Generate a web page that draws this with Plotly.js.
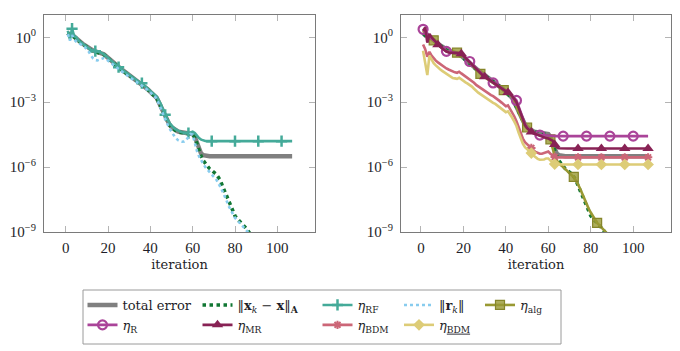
<!DOCTYPE html>
<html>
<head>
<meta charset="utf-8">
<script src="https://cdn.plot.ly/plotly-3.0.1.min.js"></script>
<style>html,body{margin:0;padding:0;background:#fff}#chart{width:680px;height:351px}</style>
</head>
<body>
<div id="chart"></div>
<script>
// ---------- data (stored as log10 exponents) ----------
const iterations = [1,2,3,4,5,6,7,8,9,10,11,12,13,14,15,16,17,18,19,20,21,22,23,24,25,26,27,28,29,30,31,32,33,34,35,36,37,38,39,40,41,42,43,44,45,46,47,48,49,50,51,52,53,54,55,56,57,58,59,60,61,62,63,64,65,66,67,68,69,70,71,72,73,74,75,76,77,78,79,80,81,82,83,84,85,86,87,88,89,90,91,92,93,94,95,96,97,98,99,100,101,102,103,104,105,106,107];

const totalErrorExp = [0.20,0.10,0.12,0.02,-0.06,-0.14,-0.22,-0.30,-0.37,-0.45,
 -0.52,-0.58,-0.62,-0.65,-0.67,-0.69,-0.72,-0.78,-0.86,-0.95,
 -1.05,-1.14,-1.22,-1.30,-1.38,-1.46,-1.53,-1.60,-1.67,-1.74,
 -1.81,-1.88,-1.95,-2.02,-2.08,-2.15,-2.23,-2.32,-2.42,-2.52,
 -2.60,-2.68,-2.80,-3.00,-3.22,-3.45,-3.68,-3.88,-4.03,-4.15,
 -4.24,-4.30,-4.35,-4.38,-4.40,-4.42,-4.43,-4.44,-4.45,-4.47,
 -4.60,-4.90,-5.20,-5.38,-5.45,-5.48,-5.50,-5.50,-5.50,-5.50,
 -5.50,-5.50,-5.50,-5.50,-5.50,-5.50,-5.50,-5.50,-5.50,-5.50,
 -5.50,-5.50,-5.50,-5.50,-5.50,-5.50,-5.50,-5.50,-5.50,-5.50,
 -5.50,-5.50,-5.50,-5.50,-5.50,-5.50,-5.50,-5.50,-5.50,-5.50,
 -5.50,-5.50,-5.50,-5.50,-5.50,-5.50,-5.50];

const aNormErrorExp = [0.18,0.08,0.10,0.00,-0.08,-0.16,-0.24,-0.32,-0.39,-0.47,
 -0.54,-0.60,-0.64,-0.67,-0.69,-0.71,-0.74,-0.80,-0.88,-0.97,
 -1.07,-1.16,-1.24,-1.32,-1.40,-1.48,-1.55,-1.62,-1.69,-1.76,
 -1.83,-1.90,-1.97,-2.04,-2.10,-2.17,-2.25,-2.34,-2.44,-2.54,
 -2.62,-2.70,-2.82,-3.02,-3.24,-3.47,-3.70,-3.90,-4.05,-4.17,
 -4.26,-4.32,-4.37,-4.40,-4.42,-4.44,-4.45,-4.46,-4.47,-4.50,
 -4.62,-4.95,-5.25,-5.50,-5.70,-5.85,-5.98,-6.08,-6.15,-6.22,
 -6.32,-6.45,-6.60,-6.85,-7.10,-7.30,-7.55,-7.85,-8.05,-8.25,
 -8.38,-8.48,-8.56,-8.65,-8.80,-8.92,-9.05,-9.20];

const etaRFExp = [0.30,-0.10,0.40,0.05,0.00,-0.15,-0.22,-0.30,-0.36,-0.45,
 -0.52,-0.57,-0.61,-0.64,-0.66,-0.68,-0.72,-0.78,-0.86,-0.95,
 -1.05,-1.14,-1.22,-1.30,-1.38,-1.46,-1.53,-1.60,-1.67,-1.74,
 -1.81,-1.88,-1.94,-2.00,-2.06,-2.12,-2.20,-2.30,-2.40,-2.50,
 -2.58,-2.65,-2.74,-2.90,-3.10,-3.35,-3.58,-3.78,-3.95,-4.08,
 -4.18,-4.26,-4.32,-4.36,-4.39,-4.41,-4.43,-4.43,-4.40,-4.36,
 -4.42,-4.55,-4.66,-4.73,-4.77,-4.79,-4.80,-4.80,-4.80,-4.80,
 -4.80,-4.80,-4.80,-4.80,-4.80,-4.80,-4.80,-4.80,-4.80,-4.80,
 -4.80,-4.80,-4.80,-4.80,-4.80,-4.80,-4.80,-4.80,-4.80,-4.80,
 -4.80,-4.80,-4.80,-4.80,-4.80,-4.80,-4.80,-4.80,-4.80,-4.80,
 -4.80,-4.80,-4.80,-4.80,-4.80,-4.80,-4.80];

const residualExp = [0.15,-0.15,0.10,-0.10,-0.20,-0.25,-0.30,-0.38,-0.45,-0.55,
 -0.68,-0.85,-0.98,-1.05,-1.07,-1.03,-0.98,-0.96,-1.00,-1.07,
 -1.15,-1.23,-1.31,-1.39,-1.47,-1.55,-1.62,-1.69,-1.76,-1.83,
 -1.90,-1.96,-2.02,-2.09,-2.15,-2.22,-2.30,-2.38,-2.46,-2.55,
 -2.63,-2.72,-2.85,-3.05,-3.30,-3.55,-3.80,-4.00,-4.20,-4.38,
 -4.52,-4.65,-4.75,-4.80,-4.83,-4.82,-4.75,-4.60,-4.47,-4.50,
 -4.90,-5.25,-5.50,-5.70,-5.85,-6.00,-6.12,-6.25,-6.35,-6.45,
 -6.55,-6.70,-6.90,-7.10,-7.30,-7.55,-7.80,-8.00,-8.20,-8.35,
 -8.45,-8.55,-8.65,-8.75,-8.88,-9.00,-9.12,-9.25];

const etaAlgExp = [0.30,0.15,0.05,-0.02,-0.09,-0.14,-0.22,-0.32,-0.41,-0.50,
 -0.58,-0.65,-0.68,-0.69,-0.70,-0.70,-0.71,-0.73,-0.77,-0.86,
 -0.96,-1.06,-1.15,-1.26,-1.38,-1.49,-1.60,-1.69,-1.77,-1.84,
 -1.91,-1.98,-2.06,-2.14,-2.20,-2.26,-2.32,-2.38,-2.44,-2.50,
 -2.56,-2.64,-2.76,-2.95,-3.20,-3.45,-3.70,-3.90,-4.05,-4.17,
 -4.28,-4.36,-4.42,-4.47,-4.50,-4.53,-4.56,-4.60,-4.64,-4.68,
 -4.72,-5.10,-5.50,-5.70,-5.82,-5.92,-6.00,-6.10,-6.20,-6.30,
 -6.38,-6.45,-6.60,-6.80,-7.00,-7.25,-7.50,-7.72,-7.92,-8.10,
 -8.28,-8.45,-8.58,-8.68,-8.78,-8.88,-8.98,-9.10];

const etaRExp = [0.37,0.25,0.12,0.02,-0.07,-0.14,-0.22,-0.32,-0.41,-0.50,
 -0.58,-0.65,-0.68,-0.69,-0.70,-0.70,-0.71,-0.73,-0.76,-0.84,
 -0.94,-1.04,-1.12,-1.22,-1.33,-1.44,-1.55,-1.64,-1.73,-1.81,
 -1.88,-1.95,-2.03,-2.11,-2.18,-2.24,-2.30,-2.37,-2.43,-2.49,
 -2.55,-2.62,-2.70,-2.80,-2.92,-3.20,-3.50,-3.78,-4.00,-4.17,
 -4.30,-4.38,-4.44,-4.48,-4.50,-4.52,-4.53,-4.54,-4.55,-4.55,
 -4.56,-4.57,-4.57,-4.57,-4.57,-4.57,-4.57,-4.57,-4.57,-4.57,
 -4.57,-4.57,-4.57,-4.57,-4.57,-4.57,-4.57,-4.57,-4.57,-4.57,
 -4.57,-4.57,-4.57,-4.57,-4.57,-4.57,-4.57,-4.57,-4.57,-4.57,
 -4.57,-4.57,-4.57,-4.57,-4.57,-4.57,-4.57,-4.57,-4.57,-4.57,
 -4.57,-4.57,-4.57,-4.57,-4.57,-4.57,-4.57];

const etaMRExp = [0.30,0.45,-0.25,0.15,0.00,-0.12,-0.24,-0.35,-0.43,-0.52,
 -0.60,-0.66,-0.70,-0.72,-0.72,-0.72,-0.72,-0.73,-0.76,-0.85,
 -0.96,-1.06,-1.15,-1.25,-1.36,-1.47,-1.58,-1.67,-1.75,-1.82,
 -1.89,-1.96,-2.04,-2.12,-2.19,-2.25,-2.31,-2.38,-2.44,-2.50,
 -2.55,-2.62,-2.72,-2.85,-3.00,-3.25,-3.55,-3.82,-4.05,-4.20,
 -4.30,-4.38,-4.44,-4.48,-4.52,-4.56,-4.60,-4.63,-4.66,-4.68,
 -4.72,-4.78,-4.95,-5.08,-5.13,-5.14,-5.14,-5.14,-5.14,-5.14,
 -5.14,-5.14,-5.14,-5.14,-5.14,-5.14,-5.14,-5.14,-5.14,-5.14,
 -5.14,-5.14,-5.14,-5.14,-5.14,-5.14,-5.14,-5.14,-5.14,-5.14,
 -5.14,-5.14,-5.14,-5.14,-5.14,-5.14,-5.14,-5.14,-5.14,-5.14,
 -5.14,-5.14,-5.14,-5.14,-5.14,-5.14,-5.14];

const etaBDMExp = [-0.33,-0.55,-0.90,-0.67,-0.85,-0.98,-1.08,-1.16,-1.24,-1.31,
 -1.38,-1.44,-1.49,-1.54,-1.59,-1.62,-1.64,-1.59,-1.67,-1.74,
 -1.80,-1.85,-1.92,-2.00,-2.10,-2.20,-2.27,-2.33,-2.40,-2.48,
 -2.55,-2.61,-2.67,-2.72,-2.78,-2.86,-2.94,-3.02,-3.10,-3.19,
 -3.15,-3.30,-3.45,-3.66,-3.88,-4.15,-4.45,-4.68,-4.85,-4.95,
 -5.02,-5.12,-5.22,-5.30,-5.36,-5.38,-5.38,-5.35,-5.30,-5.28,
 -5.38,-5.48,-5.53,-5.55,-5.55,-5.55,-5.55,-5.55,-5.55,-5.55,
 -5.55,-5.55,-5.55,-5.55,-5.55,-5.55,-5.55,-5.55,-5.55,-5.55,
 -5.55,-5.55,-5.55,-5.55,-5.55,-5.55,-5.55,-5.55,-5.55,-5.55,
 -5.55,-5.55,-5.55,-5.55,-5.55,-5.55,-5.55,-5.55,-5.55,-5.55,
 -5.55,-5.55,-5.55,-5.55,-5.55,-5.55,-5.55];

const etaBDMLowExp = [-0.62,-1.10,-1.75,-0.85,-1.05,-1.20,-1.30,-1.40,-1.48,-1.55,
 -1.62,-1.70,-1.76,-1.82,-1.88,-1.90,-1.92,-1.87,-1.95,-2.02,
 -2.08,-2.14,-2.20,-2.28,-2.38,-2.48,-2.56,-2.63,-2.70,-2.78,
 -2.85,-2.92,-2.98,-3.03,-3.08,-3.15,-3.22,-3.30,-3.38,-3.46,
 -3.42,-3.55,-3.72,-3.90,-4.10,-4.40,-4.70,-4.92,-5.08,-5.17,
 -5.24,-5.35,-5.47,-5.56,-5.62,-5.66,-5.67,-5.65,-5.60,-5.60,
 -5.70,-5.80,-5.86,-5.88,-5.88,-5.88,-5.88,-5.88,-5.88,-5.88,
 -5.88,-5.88,-5.88,-5.88,-5.88,-5.88,-5.88,-5.88,-5.88,-5.88,
 -5.88,-5.88,-5.88,-5.88,-5.88,-5.88,-5.88,-5.88,-5.88,-5.88,
 -5.88,-5.88,-5.88,-5.88,-5.88,-5.88,-5.88,-5.88,-5.88,-5.88,
 -5.88,-5.88,-5.88,-5.88,-5.88,-5.88,-5.88];

const xTickVals = [0, 20, 40, 60, 80, 100];
const yTickVals = [1, 1e-3, 1e-6, 1e-9];
const yTickText = ['10<sup>0</sup>', '10<sup>\u22123</sup>', '10<sup>\u22126</sup>', '10<sup>\u22129</sup>'];

const seriesNames = {
  total: 'total error',
  aNorm: '\u2016<b>x</b><sub><i>k</i></sub> \u2212 <b>x</b>\u2016<sub><b>A</b></sub>',
  etaRF: '<i>\u03b7</i><sub>RF</sub>',
  residual: '\u2016<b>r</b><sub><i>k</i></sub>\u2016',
  etaAlg: '<i>\u03b7</i><sub>alg</sub>',
  etaR: '<i>\u03b7</i><sub>R</sub>',
  etaMR: '<i>\u03b7</i><sub>MR</sub>',
  etaBDM: '<i>\u03b7</i><sub>BDM</sub>',
  etaBDMLow: '<i>\u03b7</i><sub><u>BDM</u></sub>'
};

// ---------- helpers ----------
const toValues = exps => exps.map(e => Math.pow(10, e));
// indices of the points carrying a mark (pgfplots-like "mark phase / mark repeat")
function markIndices(n, phase, repeat) {
  const out = [];
  for (let i = phase - 1; i < n; i += repeat) out.push(i);
  return out;
}

const C = {
  gray: '#808080', green: '#117733', teal: '#44AA99', cyan: '#88CCEE',
  olive: '#999933', purple: '#AA4499', wine: '#882255', rose: '#CC6677', sand: '#DDCC77'
};

function line(name, exps, xaxis, yaxis, style) {
  const t = {
    type: 'scatter', name: name,
    x: iterations.slice(0, exps.length), y: toValues(exps),
    xaxis: xaxis, yaxis: yaxis,
    mode: style.marker ? 'lines+markers' : 'lines',
    line: Object.assign({ width: 2.4 }, style.line),
    legend: style.legend, showlegend: style.showlegend !== false,
    hoverinfo: 'skip'
  };
  if (style.marker) {
    t.marker = style.marker;
    t.selectedpoints = markIndices(exps.length, style.phase, style.repeat);
    t.selected = { marker: { opacity: 1 } };
    t.unselected = { marker: { opacity: 0 } };
  }
  return t;
}

const sTotal = { line: { color: C.gray, width: 4.5 }, legend: 'legend' };
const sANorm = { line: { color: C.green, width: 3.5, dash: 'dot' }, legend: 'legend2' };

const data = [
  line(seriesNames.total, totalErrorExp, 'x', 'y', sTotal),
  line(seriesNames.aNorm, aNormErrorExp, 'x', 'y', sANorm),
  line(seriesNames.etaRF, etaRFExp, 'x', 'y', {
    line: { color: C.teal, width: 2.6 }, legend: 'legend3',
    marker: { symbol: 'cross-thin', size: 8, color: C.teal, line: { color: C.teal, width: 2.5 } },
    phase: 3, repeat: 11 }),
  line(seriesNames.residual, residualExp, 'x', 'y', {
    line: { color: C.cyan, width: 2.6, dash: 'dot' }, legend: 'legend4' }),
  // right panel
  line(seriesNames.total, totalErrorExp, 'x2', 'y2', Object.assign({}, sTotal, { showlegend: false })),
  line(seriesNames.aNorm, aNormErrorExp, 'x2', 'y2', Object.assign({}, sANorm, { showlegend: false })),
  line(seriesNames.etaAlg, etaAlgExp, 'x2', 'y2', {
    line: { color: C.olive, width: 2.6 }, legend: 'legend5',
    marker: { symbol: 'square', size: 9, color: 'rgba(153,153,51,0.8)', line: { color: '#858529', width: 1.2 } },
    phase: 6, repeat: 11 }),
  line(seriesNames.etaR, etaRExp, 'x2', 'y2', {
    line: { color: C.purple, width: 2.6 }, legend: 'legend',
    marker: { symbol: 'circle-open', size: 9, color: C.purple, line: { color: C.purple, width: 2.2 } },
    phase: 1, repeat: 11 }),
  line(seriesNames.etaMR, etaMRExp, 'x2', 'y2', {
    line: { color: C.wine, width: 2.6 }, legend: 'legend2',
    marker: { symbol: 'triangle-up', size: 10, color: C.wine, line: { width: 0 } },
    phase: 8, repeat: 11 }),
  line(seriesNames.etaBDM, etaBDMExp, 'x2', 'y2', {
    line: { color: C.rose, width: 2.6 }, legend: 'legend3',
    marker: { symbol: 'asterisk-open', size: 7, color: C.rose, line: { color: C.rose, width: 2 } },
    phase: 52, repeat: 11 }),
  line(seriesNames.etaBDMLow, etaBDMLowExp, 'x2', 'y2', {
    line: { color: C.sand, width: 2.6 }, legend: 'legend4',
    marker: { symbol: 'diamond', size: 9, color: C.sand, line: { width: 0 } },
    phase: 52, repeat: 11 })
];

// ---------- layout ----------
const W = 680, H = 351;
const tickFont = { family: 'Liberation Serif, serif', size: 15, color: '#1e1e28' };
const textFont = { family: 'DejaVu Serif, serif', size: 13, color: '#1e1e28' };

const plotL = 44, plotR = 671, plotT = 15, plotB = 232;
const pw = plotR - plotL, ph = plotB - plotT;
const px = v => (v - plotL) / pw;
const py = v => (plotB - v) / ph;

function xAxis(domain, range, anchor) {
  return {
    domain: domain, range: range, anchor: anchor,
    tickvals: xTickVals, ticks: 'inside', ticklen: 6, tickcolor: '#b4b4b4',
    showline: true, linecolor: '#7a7a7a', linewidth: 1, mirror: 'ticks',
    showgrid: false, zeroline: false, tickfont: tickFont, ticklabelstandoff: 2,
    title: { text: 'iteration', font: textFont, standoff: 4 }
  };
}
function yAxis(anchor) {
  return {
    type: 'log', range: [-9, 1.03], anchor: anchor,
    tickvals: yTickVals, ticktext: yTickText, ticks: 'inside', ticklen: 6, tickcolor: '#b4b4b4',
    showline: true, linecolor: '#7a7a7a', linewidth: 1, mirror: 'ticks',
    showgrid: false, zeroline: false, tickfont: tickFont, ticklabelstandoff: 4
  };
}
function legendAt(leftPx, topPx) {
  return {
    xref: 'paper', yref: 'paper', x: px(leftPx), y: py(topPx),
    xanchor: 'left', yanchor: 'top', orientation: 'v',
    bgcolor: 'rgba(0,0,0,0)', borderwidth: 0, font: textFont, traceorder: 'normal',
    itemclick: false, itemdoubleclick: false
  };
}

const layout = {
  width: W, height: H,
  margin: { l: plotL, r: W - plotR, t: plotT, b: H - plotB, pad: 0 },
  paper_bgcolor: '#ffffff', plot_bgcolor: '#ffffff',
  showlegend: true,
  xaxis: xAxis([0, px(315)], [-10.25, 117.8], 'y'),
  yaxis: yAxis('x'),
  xaxis2: xAxis([px(401), 1], [-9.4, 117.8], 'y2'),
  yaxis2: yAxis('x2'),
  legend: legendAt(82.5, 290),
  legend2: legendAt(197.5, 290),
  legend3: legendAt(317.5, 290),
  legend4: legendAt(399, 290),
  legend5: legendAt(480, 290),
  shapes: [{
    type: 'rect', xref: 'paper', yref: 'paper',
    x0: px(83), x1: px(561), y0: py(344), y1: py(290),
    line: { color: '#9a9a9a', width: 1 }, fillcolor: 'rgba(0,0,0,0)', layer: 'above'
  }]
};

Plotly.newPlot('chart', data, layout, { staticPlot: true, displayModeBar: false });
</script>
</body>
</html>
